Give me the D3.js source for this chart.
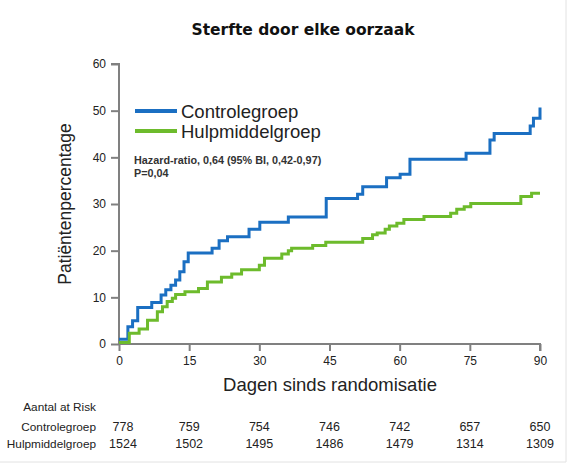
<!DOCTYPE html>
<html>
<head>
<meta charset="utf-8">
<script src="https://cdn.jsdelivr.net/npm/d3@7"></script>
<style>
  body { margin: 0; background: #fff; }
  text { font-family: "Liberation Sans", Arial, sans-serif; }
</style>
</head>
<body>
<svg id="chart" width="577" height="472"></svg>
<script>
// Kaplan-Meier steps: [day, percentage]
var controleSteps = [
  [0, 1.0], [1.9, 3.7], [2.9, 5.0], [4.0, 7.8], [7.0, 8.9], [9.0, 10.5], [10.0, 11.6],
  [11.1, 12.6], [12.1, 13.7], [13.0, 15.5], [13.9, 17.6], [14.8, 19.5], [19.9, 20.5],
  [21.4, 22.1], [23.2, 23.0], [27.8, 24.6], [30.1, 26.1], [36.2, 27.2], [44.3, 31.2],
  [51.0, 32.1], [52.1, 33.7], [57.2, 35.6], [60.1, 36.4], [62.2, 39.6], [74.2, 40.9],
  [79.3, 43.7], [80.2, 45.1], [87.9, 46.7], [88.6, 48.4], [90, 50.7]
];
var hulpSteps = [
  [0, 0.3], [2.2, 2.3], [4.3, 3.2], [6.1, 5.1], [8.2, 6.9], [9.3, 8.0], [10.3, 9.1],
  [11.4, 9.8], [12.1, 10.6], [14.1, 11.2], [17.0, 11.9], [18.9, 13.3], [21.9, 14.3],
  [24.1, 15.0], [26.2, 15.9], [30.0, 16.9], [31.1, 18.4], [34.8, 19.3], [36.2, 20.0],
  [36.9, 20.5], [41.4, 21.1], [44.2, 21.8], [52.1, 22.6], [54.2, 23.4], [55.2, 23.8],
  [56.9, 24.6], [57.8, 25.3], [59.4, 25.9], [60.9, 26.7], [65.2, 27.3], [70.9, 28.0],
  [72.2, 28.9], [73.8, 29.4], [75.2, 30.1], [85.9, 31.6], [88.2, 32.3], [90, 32.3]
];
var xTicks = [0, 15, 30, 45, 60, 75, 90];
var yTicks = [0, 10, 20, 30, 40, 50, 60];
var riskControle = [778, 759, 754, 746, 742, 657, 650];
var riskHulp = [1524, 1502, 1495, 1486, 1479, 1314, 1309];
var seriesNames = ["Controlegroep", "Hulpmiddelgroep"];
var seriesColors = ["#1b6fc2", "#6dbb2c"];

var svg = d3.select("#chart");

// faint frame at right and bottom
svg.append("line").attr("x1", 566).attr("x2", 566).attr("y1", 0).attr("y2", 462)
    .attr("stroke", "#e2e2e2");
svg.append("line").attr("x1", 0).attr("x2", 566).attr("y1", 462).attr("y2", 462)
    .attr("stroke", "#e2e2e2");

var x = d3.scaleLinear().domain([0, 90]).range([119, 540]);
var y = d3.scaleLinear().domain([0, 60]).range([344, 64]);

// title
svg.append("text").attr("x", 303).attr("y", 35)
    .attr("text-anchor", "middle")
    .style("font-family", "'DejaVu Sans', sans-serif")
    .style("font-weight", "bold").style("font-size", "15.5px")
    .attr("fill", "#111").text("Sterfte door elke oorzaak");

// axes
var yAxis = d3.axisLeft(y).tickValues(yTicks).tickSize(8).tickPadding(5);
var xAxis = d3.axisBottom(x).tickValues(xTicks).tickSize(7).tickPadding(5);

var gy = svg.append("g").attr("transform", "translate(119,0)").call(yAxis);
var gx = svg.append("g").attr("transform", "translate(0,344)").call(xAxis);
[gy, gx].forEach(function (g) {
    g.select(".domain").attr("stroke", "#808080").attr("stroke-width", 2);
    g.selectAll(".tick line").attr("stroke", "#808080").attr("stroke-width", 2);
    g.selectAll(".tick text").attr("fill", "#222").style("font-size", "12px")
        .style("font-family", "'Liberation Sans', sans-serif");
});
gy.select(".domain").attr("d", "M-8,64H0V344");
gx.select(".domain").attr("d", "M119,0H540V7");

// axis titles
svg.append("text")
    .attr("transform", "translate(71,204) rotate(-90)")
    .attr("text-anchor", "middle").style("font-size", "17.5px").attr("fill", "#222")
    .text("Patiëntenpercentage");
svg.append("text").attr("x", 330).attr("y", 391)
    .attr("text-anchor", "middle").style("font-size", "18.5px").attr("fill", "#222")
    .text("Dagen sinds randomisatie");

// survival curves
var line = d3.line()
    .x(function (d) { return x(d[0]); })
    .y(function (d) { return y(d[1]); })
    .curve(d3.curveStepAfter);

[controleSteps, hulpSteps].forEach(function (s, i) {
    svg.append("path").datum(s)
        .attr("fill", "none")
        .attr("stroke", seriesColors[i])
        .attr("stroke-width", 3)
        .attr("d", line);
});

// legend
seriesNames.forEach(function (name, i) {
    var ly = 111 + i * 20;
    svg.append("line").attr("x1", 135).attr("x2", 177)
        .attr("y1", ly).attr("y2", ly)
        .attr("stroke", seriesColors[i]).attr("stroke-width", 4);
    svg.append("text").attr("x", 181).attr("y", ly + 6.5)
        .style("font-size", "18.5px").attr("fill", "#222").text(name);
});

svg.append("text").attr("x", 134).attr("y", 164)
    .style("font-size", "10.8px").style("font-weight", "bold").attr("fill", "#333")
    .text("Hazard-ratio, 0,64 (95% BI, 0,42-0,97)");
svg.append("text").attr("x", 134).attr("y", 177)
    .style("font-size", "10.8px").style("font-weight", "bold").attr("fill", "#333")
    .text("P=0,04");

// at-risk table
svg.append("text").attr("x", 96).attr("y", 411).attr("text-anchor", "end")
    .style("font-size", "11.8px").attr("fill", "#222").text("Aantal at Risk");
[riskControle, riskHulp].forEach(function (row, i) {
    var ry = 431 + i * 17;
    svg.append("text").attr("x", 96).attr("y", ry).attr("text-anchor", "end")
        .style("font-size", "11.8px").attr("fill", "#222").text(seriesNames[i]);
    svg.selectAll(null).data(row).enter().append("text")
        .attr("x", function (d, j) { return x(xTicks[j]) + (j === 0 ? 4 : 0); })
        .attr("y", ry)
        .attr("text-anchor", "middle")
        .style("font-size", "12.5px").attr("fill", "#222")
        .text(function (d) { return d; });
});
</script>
</body>
</html>
